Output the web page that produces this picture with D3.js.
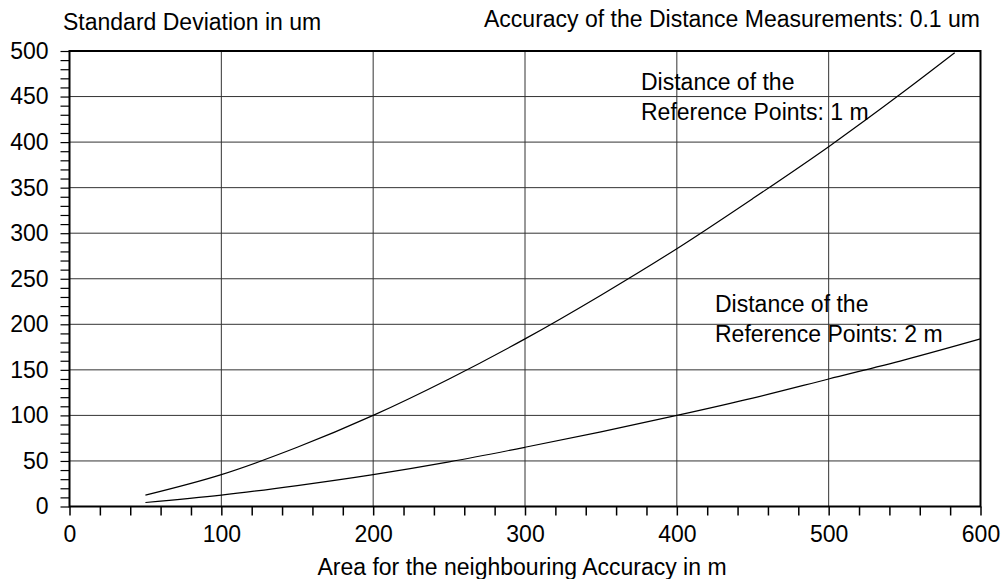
<!DOCTYPE html>
<html><head><meta charset="utf-8">
<script src="https://cdn.jsdelivr.net/npm/d3@7"></script>
<style>body{margin:0;background:#fff}svg{display:block}text{font-family:"Liberation Sans",Arial,sans-serif;fill:#000}</style>
</head><body>
<script>
const xTicksMajor = [0,100,200,300,400,500,600];
const yTicksMajor = [0,50,100,150,200,250,300,350,400,450,500];
const x1m = [50,100,150,200,250,300,350,400,450,500,550,583];
const y1m = [12.5,35,65,100,140,184,232,283,338,395,456,498];
const x2m = [50,100,150,200,250,300,350,400,450,500,550,600];
const y2m = [4.4,12.5,23,35,49,65,82,100,119,140,161,184];
const titleY = "Standard Deviation in um";
const titleTop = "Accuracy of the Distance Measurements: 0.1 um";
const titleX = "Area for the neighbouring Accuracy in m";
const label1 = ["Distance of the","Reference Points: 1 m"];
const label2 = ["Distance of the","Reference Points: 2 m"];

const W=1002,H=579;
const svg=d3.select("body").append("svg").attr("width",W).attr("height",H);
const x=d3.scaleLinear().domain([0,600]).range([69.5,980.5]);
const y=d3.scaleLinear().domain([0,500]).range([506.5,51]);
const fs=23;

// grid
svg.append("g").selectAll("line").data(xTicksMajor.slice(1,-1)).join("line")
 .attr("x1",d=>x(d)).attr("x2",d=>x(d)).attr("y1",y(0)).attr("y2",y(500)).attr("stroke","#333").attr("stroke-width",1);
svg.append("g").selectAll("line").data(yTicksMajor.slice(1,-1)).join("line")
 .attr("y1",d=>y(d)).attr("y2",d=>y(d)).attr("x1",x(0)).attr("x2",x(600)).attr("stroke","#333").attr("stroke-width",1);

// axes
const xAxis=d3.axisBottom(x).tickValues(d3.range(0,601,20)).tickSize(9).tickFormat(d=>d%100===0?d:"");
const gx=svg.append("g").attr("transform",`translate(0,${y(0)})`).call(xAxis);
gx.select(".domain").remove();
gx.selectAll(".tick line").attr("stroke","#000").attr("stroke-width",1.5);
gx.selectAll("text").attr("font-size",fs).attr("dy","1.0em").attr("font-family","Liberation Sans, Arial, sans-serif");
const yAxis=d3.axisLeft(y).tickValues(d3.range(0,501,10)).tickSize(9).tickFormat(d=>d%50===0?d:"");
const gy=svg.append("g").attr("transform",`translate(${x(0)},0)`).call(yAxis);
gy.select(".domain").remove();
gy.selectAll(".tick line").attr("stroke","#000").attr("stroke-width",1.2);
gy.selectAll("text").attr("font-size",fs).attr("x",-21).attr("font-family","Liberation Sans, Arial, sans-serif");

// frame
svg.append("rect").attr("x",x(0)).attr("y",y(500)).attr("width",x(600)-x(0)).attr("height",y(0)-y(500))
 .attr("fill","none").attr("stroke","#000").attr("stroke-width",2);

// lines
const line=d3.line().x(d=>x(d[0])).y(d=>y(d[1])).curve(d3.curveMonotoneX);
svg.append("path").datum(x1m.map((v,i)=>[v,y1m[i]])).attr("d",line).attr("fill","none").attr("stroke","#000").attr("stroke-width",1.2);
svg.append("path").datum(x2m.map((v,i)=>[v,y2m[i]])).attr("d",line).attr("fill","none").attr("stroke","#000").attr("stroke-width",1.2);

// texts
svg.append("text").attr("x",63).attr("y",30).attr("font-size",fs).text(titleY);
svg.append("text").attr("x",980).attr("y",27).attr("text-anchor","end").attr("font-size",fs).text(titleTop);
svg.append("text").attr("x",522).attr("y",575).attr("text-anchor","middle").attr("font-size",fs).text(titleX);
label1.forEach((t,i)=>svg.append("text").attr("x",641).attr("y",89.5+i*30).attr("font-size",fs).text(t));
label2.forEach((t,i)=>svg.append("text").attr("x",715).attr("y",312+i*30).attr("font-size",fs).text(t));
</script>
</body></html>
